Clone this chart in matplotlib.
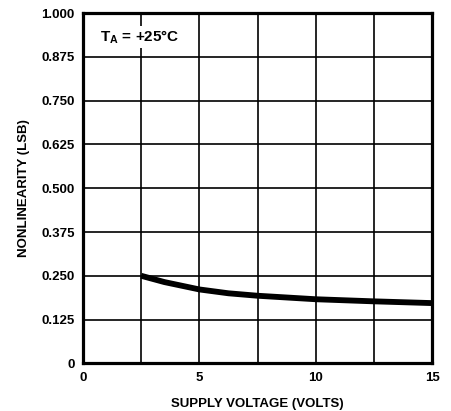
import matplotlib
matplotlib.use("Agg")
import matplotlib.pyplot as plt
import numpy as np

voltage = [2.5, 3.5, 5.0, 6.25, 7.5, 10.0, 12.5, 15.0]
nonlinearity = [0.250, 0.232, 0.211, 0.200, 0.193, 0.183, 0.177, 0.172]
x_ticks = [0, 5, 10, 15]
y_ticks = [0, 0.125, 0.250, 0.375, 0.500, 0.625, 0.750, 0.875, 1.000]
y_tick_labels = ["0", "0.125", "0.250", "0.375", "0.500", "0.625", "0.750", "0.875", "1.000"]

plt.rcParams['font.family'] = ['Liberation Sans', 'DejaVu Sans']

fig = plt.figure(figsize=(4.51, 4.11), dpi=100)
ax = fig.add_axes([0.184, 0.116, 0.774, 0.852])

ax.set_xlim(0, 15)
ax.set_ylim(0, 1.0)

# grid at every 2.5 V and every 0.125 LSB
for gx in np.arange(2.5, 15, 2.5):
    ax.axvline(gx, color='black', lw=1.2, zorder=1)
for gy in y_ticks[1:-1]:
    ax.axhline(gy, color='black', lw=1.2, zorder=1)

ax.plot(voltage, nonlinearity, color='black', lw=4.2, solid_capstyle='butt', zorder=3)

ax.set_xticks(x_ticks)
ax.set_xticklabels([str(t) for t in x_ticks], fontsize=9.5, fontweight='bold')
ax.set_yticks(y_ticks)
ax.set_yticklabels(y_tick_labels, fontsize=9.5, fontweight='bold')
ax.tick_params(length=0, pad=6)

for s in ax.spines.values():
    s.set_linewidth(2.3)
    s.set_color('black')

ax.set_xlabel("SUPPLY VOLTAGE (VOLTS)", fontsize=9.5, fontweight='bold', labelpad=10)
ax.set_ylabel("NONLINEARITY (LSB)", fontsize=9.5, fontweight='bold', labelpad=8)

ax.text(0.048, 0.958, r"T$_\mathregular{A}$ = +25°C", transform=ax.transAxes,
        fontsize=11, fontweight='bold', ha='left', va='top', zorder=5,
        bbox=dict(facecolor='white', edgecolor='none', pad=1.5))

fig.savefig("out.png", dpi=100)
